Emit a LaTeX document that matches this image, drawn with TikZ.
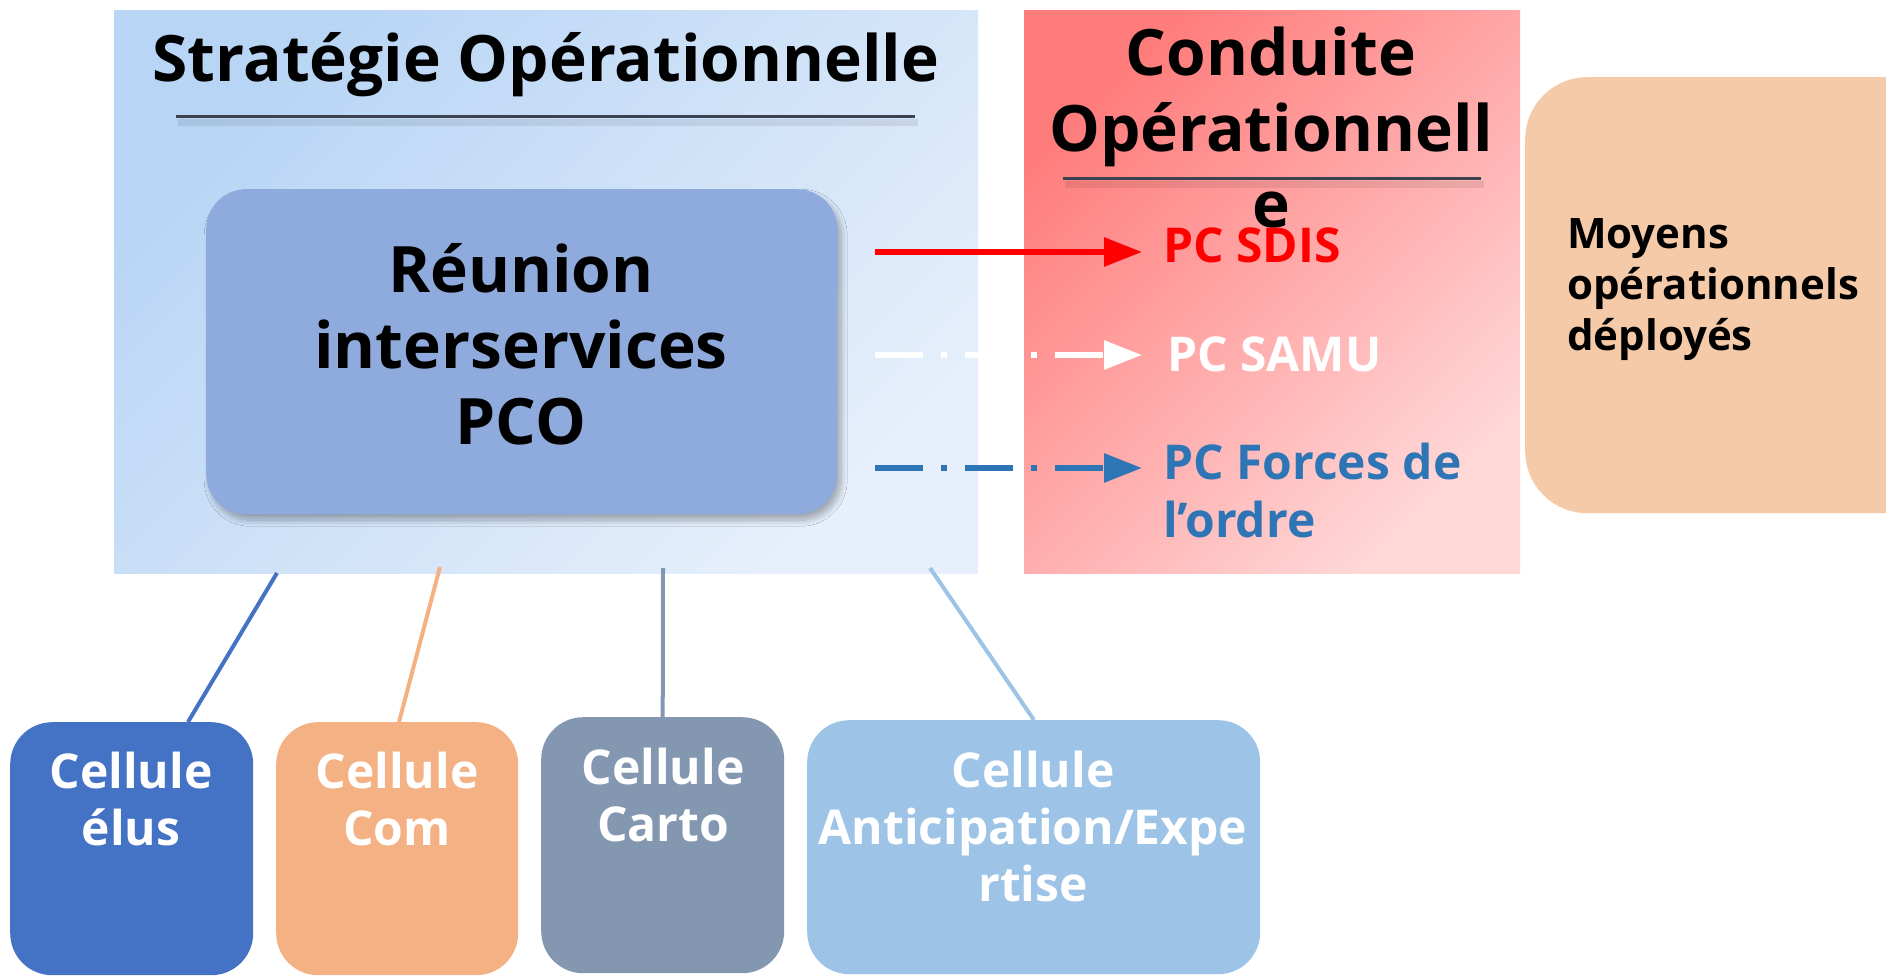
\documentclass[tikz,border=0pt]{standalone}
\usepackage{fontspec}
\setmainfont{Open Sans}
\usetikzlibrary{arrows.meta,shadows,shadows.blur}
\definecolor{bluetl}{HTML}{B8D5F5}
\definecolor{bluebr}{HTML}{E6EFFB}
\definecolor{redtl}{HTML}{FF7C7C}
\definecolor{redbr}{HTML}{FFD8D8}
\definecolor{moyensfill}{HTML}{F5CAA8}
\definecolor{reunionfill}{HTML}{8FAADC}
\definecolor{elusfill}{HTML}{4472C4}
\definecolor{comfill}{HTML}{F4B183}
\definecolor{cartofill}{HTML}{8497B0}
\definecolor{anticfill}{HTML}{9DC3E6}
\definecolor{forcesblue}{HTML}{2E75B6}
\definecolor{rulegray}{HTML}{3C4250}
\begin{document}
\begin{tikzpicture}[x=1pt,y=-1pt,
  ttl/.style={font=\fontsize{64}{76}\selectfont\bfseries, inner sep=0pt, align=center, anchor=base},
  pclbl/.style={font=\fontsize{48}{58}\selectfont\bfseries, inner sep=0pt, align=left, anchor=base west},
  celltxt/.style={font=\fontsize{48}{57}\selectfont\bfseries, text=white, inner sep=0pt, align=center, anchor=base},
  cellbox/.style={rounded corners=42pt, anchor=north west, inner sep=0pt},
  conn/.style={line width=4pt},
  arr/.style={line width=6pt, -{Triangle[length=38pt,width=28pt]}, shorten >=21pt},
  dd/.style={dash pattern=on 48pt off 18pt on 6pt off 18pt},
  titlerule/.style={line width=3pt, draw=rulegray}
]
\useasboundingbox (0,0) rectangle (1886,976);
\begin{scope}
\clip (0,0) rectangle (1886,976);
% panels
\shade[top color=bluetl, bottom color=bluebr, shading angle=45] (114,11) rectangle (978,573);
\shade[top color=redtl, bottom color=redbr, shading angle=45] (1024,11) rectangle (1520,573);
% moyens box
\node[fill=moyensfill, rounded corners=62pt, anchor=north west, minimum width=440pt, minimum height=436pt, inner sep=0pt] (moyensbox) at (1525,77) {};
\node[font=\fontsize{42}{51}\selectfont\bfseries, inner sep=0pt, align=left, anchor=base west] (moyens) at (1567,350) {Moyens\\opérationnels\\déployés};
% titles
\node[ttl] (strat) at (546,82) {Stratégie Opérationnelle};
\draw[line width=7pt, black, opacity=0.08] (178,123) -- (918,123);
\draw[titlerule] (176,117) -- (915,117);
\node[ttl] (conduite) at (1271,228) {Conduite\\Opérationnell\\e};
\draw[line width=7pt, black, opacity=0.08] (1065,185) -- (1484,185);
\draw[titlerule] (1063,179) -- (1481,179);
% reunion box
\node[fill=reunionfill, rounded corners=40pt, anchor=north west, minimum width=631pt, minimum height=325pt, inner sep=0pt,
  blur shadow={shadow xshift=4pt, shadow yshift=-6pt, shadow blur steps=12, shadow blur radius=6pt, shadow opacity=30}] (reunionbox) at (206,189) {};
\node[ttl] (reunion) at (521,444) {Réunion\\interservices\\PCO};
% PC labels
\node[pclbl, text=red] (sdis) at (1163,262) {PC SDIS};
\node[pclbl, text=white] (samu) at (1167,371) {PC SAMU};
\node[pclbl, text=forcesblue] (forces) at (1163,537) {PC Forces de\\l’ordre};
% arrows
\coordinate (a1) at (875,252);
\coordinate (a2) at (875,355);
\coordinate (a3) at (875,468);
\draw[arr, red] (a1) -- (a1 -| sdis.west);
\draw[arr, white, dd] (a2) -- (a2 -| sdis.west);
\draw[arr, forcesblue, dd] (a3) -- (a3 -| sdis.west);
% cells
\node[cellbox, fill=elusfill, minimum width=243pt, minimum height=253pt] (elusbox) at (10,722) {};
\node[cellbox, fill=comfill, minimum width=242pt, minimum height=253pt] (combox) at (276,722) {};
\node[cellbox, fill=cartofill, minimum width=243pt, minimum height=256pt] (cartobox) at (541,717) {};
\node[cellbox, fill=anticfill, minimum width=453pt, minimum height=254pt] (anticbox) at (807,720) {};
\node[celltxt] (elus) at (131,845) {Cellule\\élus};
\node[celltxt] (com) at (397,845) {Cellule\\Com};
\node[celltxt] (carto) at (663,841) {Cellule\\Carto};
\node[celltxt] (antic) at (1033,901) {Cellule\\Anticipation/Expe\\rtise};
% connectors
\coordinate (s1) at (277,573);
\coordinate (s2) at (440,567);
\coordinate (s3) at (663,568);
\coordinate (s4) at (930,568);
\coordinate (e1) at (188,722);
\coordinate (e2) at (399,722);
\coordinate (e4) at (1034,722);
\draw[conn, elusfill] (s1) -- (e1 |- elusbox.north);
\draw[conn, comfill] (s2) -- (e2 |- combox.north);
\draw[conn, cartofill] (s3) -- (cartobox.north);
\draw[conn, anticfill] (s4) -- (e4 |- anticbox.north);
\end{scope}
\end{tikzpicture}
\end{document}
